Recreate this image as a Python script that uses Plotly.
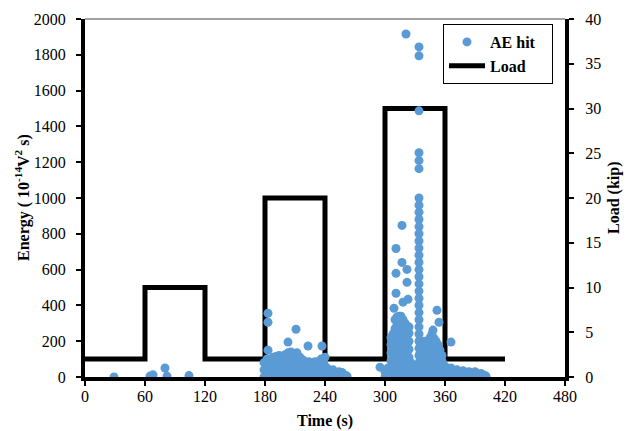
import plotly.graph_objects as go

# ---------------- data ----------------
# Load protocol (kip) vs time (s)
load_time = [0, 60, 60, 120, 120, 180, 180, 240, 240, 300, 300, 360, 360, 420]
load_kip = [2, 2, 10, 10, 2, 2, 20, 20, 2, 2, 30, 30, 2, 2]

# AE hits, grouped as (time s, [energies at that time])
hits_stage1 = [
    (29, [0]), (65, [5]), (68, [12]), (80, [50]), (82, [5]), (104, [8]),
]

hits_stage2 = [
    (183, [356, 306, 150]), (211, [267]), (203, [195]), (223, [173]),
    (237, [173]), (240, [110]),
    (179, [0, 40, 80]), (182, [20, 60, 100]), (185, [0, 50, 90]),
    (188, [20, 70, 110]), (191, [0, 40, 90, 115]), (194, [20, 60, 100, 120]),
    (197, [0, 40, 80, 115]), (200, [20, 60, 100, 125]), (203, [0, 50, 100, 135]),
    (206, [20, 70, 110, 140]), (209, [0, 40, 90, 130]), (212, [20, 60, 100, 135]),
    (215, [0, 50, 90, 110]), (218, [20, 60, 95]), (221, [0, 40, 80]),
    (224, [20, 60, 85]), (227, [0, 40, 70]), (230, [20, 50, 85]),
    (233, [0, 40, 75]), (236, [20, 60, 100]), (239, [0, 40, 70]),
    (242, [20, 50]), (245, [0, 30]), (248, [10, 40]), (251, [0, 20]),
    (254, [10, 30]), (257, [0, 25]), (260, [10]), (262, [5]),
]

hits_stage3 = [
    (321, [1916]), (317, [847, 640]), (311, [718, 579, 468]), (322, [601, 529]),
    (318, [418]), (323, [434]), (309, [384]), (352, [373]), (354, [306]),
    (348, [262]), (366, [195]), (295, [55]),
    (300, [0, 30]), (303, [10, 50]),
    (306, [0, 45, 90, 135, 180, 220]),
    (308, [20, 65, 110, 155, 200, 240]),
    (310, [0, 45, 90, 135, 180, 225, 270, 320]),
    (312, [20, 65, 110, 155, 200, 245, 290, 335]),
    (314, [0, 45, 90, 135, 180, 225, 270, 315, 340]),
    (316, [20, 65, 110, 155, 200, 245, 290, 340]),
    (318, [0, 45, 90, 135, 180, 225, 270, 320]),
    (320, [20, 65, 110, 155, 200, 245, 300]),
    (322, [0, 45, 90, 135, 180, 225, 285]),
    (324, [20, 65, 110, 155, 200, 245, 280]),
    (326, [0, 40, 80]), (329, [10, 50]), (331, [0, 30]),
    (334, [0, 40, 80, 120, 160, 200, 240, 280, 320, 360, 400, 440, 480, 520,
           560, 600, 640, 680, 720, 760, 800, 840, 880, 920, 960, 1000,
           1164, 1209, 1253, 1487, 1794, 1844]),
    (337, [0, 45, 90, 135, 180]),
    (339, [20, 65, 110, 155, 200]),
    (341, [0, 45, 90, 135, 180]),
    (343, [20, 65, 110, 155, 195]),
    (345, [0, 45, 90, 135, 180, 220]),
    (347, [20, 65, 110, 155, 200, 240]),
    (349, [0, 45, 90, 135, 180, 215]),
    (351, [20, 65, 110, 155, 200]),
    (353, [0, 45, 90, 135, 180]),
    (355, [20, 65, 110, 150]),
    (357, [0, 45, 90, 120]),
    (360, [20, 60]), (363, [0, 40]), (366, [20, 50]), (369, [0, 30]),
    (372, [10, 40]), (375, [0, 25]), (378, [10, 35]), (381, [0, 20]),
    (384, [10, 30]), (387, [0, 20]), (390, [10, 30]), (393, [0, 15]),
    (396, [5, 20]), (399, [0, 10]), (401, [5]),
]

ae_time, ae_energy = [], []
for group in (hits_stage1, hits_stage2, hits_stage3):
    for t, energies in group:
        for e in energies:
            ae_time.append(t)
            ae_energy.append(e)

x_ticks = [0, 60, 120, 180, 240, 300, 360, 420, 480]

# ---------------- figure ----------------
FONT = "Times New Roman, Liberation Serif, serif"
OFF = 8  # page body margin of the html page
L, R, T, B = 85 - OFF, 70, 19 - OFF, 54
W, H = 635 - OFF, 431 - OFF
PW, PH = W - L - R, H - T - B


def px_x(page_x):
    return (page_x - OFF - L) / PW


def px_y(page_y):
    return (H - B - (page_y - OFF)) / PH


fig = go.Figure()

fig.add_trace(go.Scatter(
    x=ae_time, y=ae_energy, mode="markers",
    name="<b>AE hit</b>&nbsp;&nbsp;&nbsp;",
    marker=dict(color="#5B9BD5", size=9, line=dict(width=0)),
    yaxis="y2",
))
fig.add_trace(go.Scatter(
    x=load_time, y=load_kip, mode="lines", name="<b>Load</b>",
    line=dict(color="black", width=5),
    yaxis="y",
))

axis_common = dict(
    showgrid=False, zeroline=False, showline=True, linecolor="black",
    linewidth=4, ticks="outside", ticklen=5, tickwidth=2, tickcolor="black",
    automargin=False,
    tickfont=dict(family=FONT, size=16, color="black"),
)

title_font = dict(family=FONT, size=16, color="black")

fig.update_layout(
    width=W, height=H,
    margin=dict(l=L, r=R, t=T, b=B),
    paper_bgcolor="white", plot_bgcolor="white",
    showlegend=True,
    legend=dict(
        x=px_x(443), y=px_y(24), xanchor="left", yanchor="top",
        bordercolor="black", borderwidth=1, bgcolor="white",
        font=dict(family=FONT, size=16, color="black"),
        traceorder="normal", itemwidth=36, tracegroupgap=0,
    ),
    xaxis=dict(range=[0, 480], tickvals=x_ticks, ticklabelstandoff=-3,
               **axis_common),
    yaxis=dict(range=[0, 40], dtick=5, side="right", ticklabelstandoff=8,
               **axis_common),
    yaxis2=dict(range=[0, 2000], dtick=200, side="left", overlaying="y",
                ticklabelstandoff=7, **axis_common),
    shapes=[dict(type="line", xref="paper", yref="paper", x0=0, x1=1,
                 y0=1, y1=1, line=dict(color="#444", width=1))],
    annotations=[
        dict(text="<b>Time (s)</b>", xref="paper", yref="paper",
             x=0.5, y=px_y(421), showarrow=False,
             font=title_font, xanchor="center", yanchor="middle"),
        dict(text="<b>Energy ( 10<sup>-14</sup>V<sup>2</sup> s)</b>",
             xref="paper", yref="paper", x=px_x(22), y=0.5,
             showarrow=False, textangle=-90, font=title_font,
             xanchor="center", yanchor="middle"),
        dict(text="<b>Load (kip)</b>", xref="paper", yref="paper",
             x=px_x(614), y=0.5, showarrow=False, textangle=-90,
             font=title_font, xanchor="center", yanchor="middle"),
    ],
)

fig.write_html("out.html")
